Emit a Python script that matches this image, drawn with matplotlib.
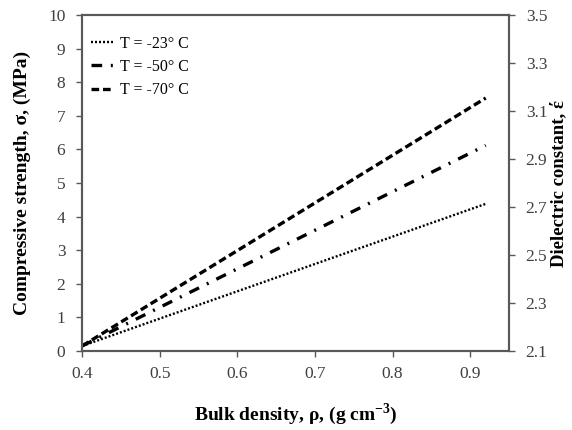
import numpy as np
import matplotlib
matplotlib.use("Agg")
import matplotlib.pyplot as plt

plt.rcParams['font.family'] = ['Liberation Serif', 'DejaVu Serif']
plt.rcParams['mathtext.fontset'] = 'custom'
plt.rcParams['mathtext.rm'] = 'Liberation Serif'
plt.rcParams['mathtext.bf'] = 'Liberation Serif:bold'

# data
density = [0.40, 0.92]
sigma_23 = [0.15, 4.38]
sigma_50 = [0.15, 6.12]
sigma_70 = [0.15, 7.53]
labels = ['T = -23° C', 'T = -50° C', 'T = -70° C']
x_ticks = [0.4, 0.5, 0.6, 0.7, 0.8, 0.9]
y_ticks = list(range(0, 11))
eps_ticks = [2.1, 2.3, 2.5, 2.7, 2.9, 3.1, 3.3, 3.5]

grey = '#595959'

fig = plt.figure(figsize=(5.72, 4.3), dpi=100)
ax = fig.add_axes([0.1434, 0.1837, 0.7465, 0.7813])

ax.plot(density, sigma_23, color='black', lw=1.7, linestyle=(0, (0.85, 0.85)), label=labels[0])
ax.plot(density, sigma_50, color='black', lw=2.4, linestyle=(0, (3.2, 2.6, 0.6, 2.6)), label=labels[1])
ax.plot(density, sigma_70, color='black', lw=2.4, linestyle=(0, (2.3, 1.15)), label=labels[2])

ax.set_xlim(0.4, 0.95)
ax.set_ylim(0, 10)
ax.set_xticks(x_ticks)
ax.set_xticklabels(['%.1f' % v for v in x_ticks])
ax.set_yticks(y_ticks)

ax2 = ax.twinx()
ax2.set_ylim(2.1, 3.5)
ax2.set_yticks(eps_ticks)
ax2.set_yticklabels(['%.1f' % v for v in eps_ticks])

for a in (ax, ax2):
    for s in a.spines.values():
        s.set_color(grey)
        s.set_linewidth(1.5)
    a.tick_params(colors=grey, labelcolor='#404040', labelsize=12.5, length=4, width=1)
ax.tick_params(axis='x', pad=7)
ax.tick_params(axis='y', pad=8)
ax2.tick_params(axis='y', pad=8)

ax.set_xlabel(r'Bulk density, ρ, (g cm$^{\mathbf{-3}}$)', fontsize=14, fontweight='bold', labelpad=14)
ax.set_ylabel('Compressive strength, σ, (MPa)', fontsize=14, fontweight='bold', labelpad=12)
ax2.set_ylabel('Dielectric constant, έ', fontsize=13.5, fontweight='bold', labelpad=2)

ax.legend(loc='upper left', bbox_to_anchor=(0.006, 0.957), borderaxespad=0,
          frameon=False, fontsize=11.5, handlelength=1.35,
          handletextpad=0.45, labelspacing=0.45)

fig.savefig('out.png', dpi=100)
